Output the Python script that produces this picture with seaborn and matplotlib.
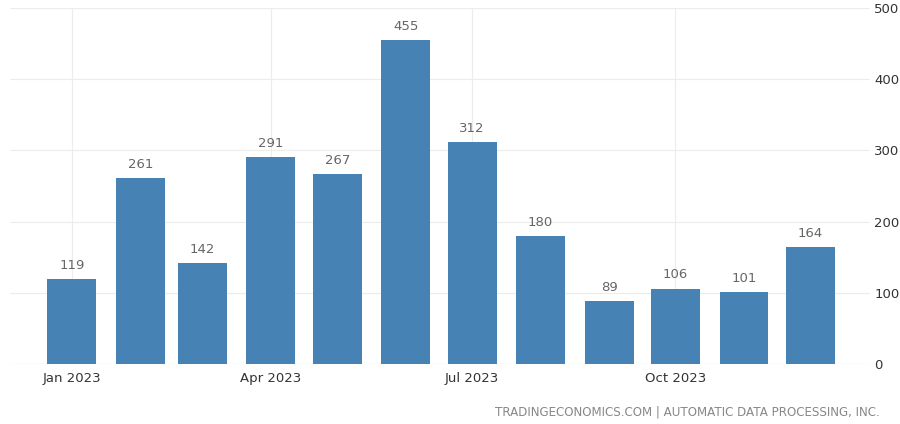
import matplotlib
matplotlib.use('Agg')
import matplotlib.pyplot as plt
import seaborn as sns
import pandas as pd

months = ["2023-01-01", "2023-02-01", "2023-03-01", "2023-04-01", "2023-05-01", "2023-06-01",
          "2023-07-01", "2023-08-01", "2023-09-01", "2023-10-01", "2023-11-01", "2023-12-01"]
values = [119, 261, 142, 291, 267, 455, 312, 180, 89, 106, 101, 164]
tick_months = ["2023-01-01", "2023-04-01", "2023-07-01", "2023-10-01"]
tick_labels = ["Jan 2023", "Apr 2023", "Jul 2023", "Oct 2023"]
y_ticks = [0, 100, 200, 300, 400, 500]

sns.set_style("white")
plt.rcParams['font.family'] = ['DejaVu Sans']

start = pd.Timestamp(months[0])
df = pd.DataFrame({"date": pd.to_datetime(months), "value": values})
df["day"] = (df["date"] - start).dt.days
tick_pos = [(pd.Timestamp(m) - start).days for m in tick_months]

fig = plt.figure(figsize=(9, 4.24), dpi=100)
ax = fig.add_axes([10 / 900, 60 / 424, 860 / 900, 356 / 424])

sns.barplot(data=df, x="day", y="value", native_scale=True, color="#4682b4",
            saturation=1, width=0.79, linewidth=0, ax=ax, zorder=2)

for d, v in zip(df["day"], values):
    ax.text(d, v + 10, str(v), ha="center", va="bottom", fontsize=9.5, color="#666666")

ax.set_xlim(-28, 361)
ax.set_ylim(0, 500)
ax.yaxis.tick_right()
ax.set_yticks(y_ticks)
ax.set_yticklabels([str(t) for t in y_ticks], fontsize=9.5, color="#333333")
ax.set_xticks(tick_pos)
ax.set_xticklabels(tick_labels, fontsize=9.5, color="#333333")
ax.tick_params(axis="y", length=0, pad=3)
ax.tick_params(axis="x", length=0, pad=6)
ax.set_xlabel("")
ax.set_ylabel("")

ax.grid(True, color="#ececec", linewidth=0.8, zorder=0)
ax.set_axisbelow(True)
for s in ax.spines.values():
    s.set_visible(False)
ax.axhline(0, color="#e2e2e2", linewidth=0.8, zorder=1)

fig.text(880 / 900, 1 - 412 / 424, "TRADINGECONOMICS.COM | AUTOMATIC DATA PROCESSING, INC.",
         ha="right", va="center", fontsize=8.6, color="#888888")

fig.savefig("out.png", dpi=100)
